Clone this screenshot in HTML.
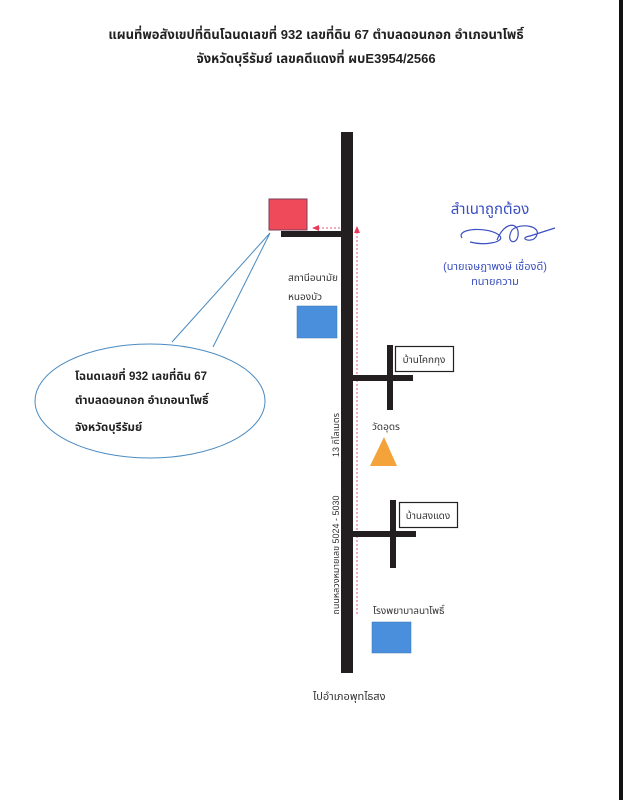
<!DOCTYPE html>
<html><head><meta charset="utf-8"><style>
html,body{margin:0;padding:0;background:#fff;}
svg{display:block;font-family:"Liberation Sans","Noto Sans Thai","Loma","Garuda",sans-serif;}
</style></head><body>
<svg width="623" height="800" viewBox="0 0 623 800" xmlns="http://www.w3.org/2000/svg">
<rect x="0" y="0" width="623" height="800" fill="#fff"/>
<rect x="619" y="0" width="4" height="800" fill="#111"/>
<text x="316" y="39" font-size="13" font-weight="bold" fill="#222" text-anchor="middle">แผนที่พอสังเขปที่ดินโฉนดเลขที่ 932 เลขที่ดิน 67 ตำบลดอนกอก อำเภอนาโพธิ์</text>
<text x="316" y="63" font-size="13" font-weight="bold" fill="#222" text-anchor="middle">จังหวัดบุรีรัมย์  เลขคดีแดงที่ ผบE3954/2566</text>

<rect x="341" y="132" width="12" height="541" fill="#231f20"/>
<rect x="281" y="231" width="60" height="6" fill="#231f20"/>
<rect x="269" y="199" width="38" height="31" fill="#ef4a5a" stroke="#7a3f5a" stroke-width="1"/>
<line x1="357" y1="232" x2="357" y2="614" stroke="#e85a7a" stroke-width="1" stroke-dasharray="2,2"/>
<polygon points="357,226 354,233 360,233" fill="#e83a5a"/>
<line x1="318" y1="228" x2="341" y2="228" stroke="#e85a7a" stroke-width="1" stroke-dasharray="2,2"/>
<polygon points="312,228 319,225 319,231" fill="#e83a5a"/>

<text x="288" y="281" font-size="10" fill="#333">สถานีอนามัย</text>
<text x="288" y="300" font-size="10" fill="#333">หนองบัว</text>
<rect x="297" y="306" width="40" height="32" fill="#4a8fdc" stroke="#3a70b0" stroke-width="0.5"/>

<rect x="353" y="375" width="60" height="6" fill="#231f20"/>
<rect x="387" y="345" width="6" height="65" fill="#231f20"/>
<rect x="395.5" y="346.5" width="58" height="25" fill="#fff" stroke="#222" stroke-width="1.2"/>
<text x="424" y="363" font-size="10" fill="#333" text-anchor="middle">บ้านโคกกุง</text>

<text x="372" y="430" font-size="10" fill="#333">วัดอุดร</text>
<polygon points="384,437 397,466 370,466" fill="#f4a23a"/>

<rect x="353" y="531" width="63" height="6" fill="#231f20"/>
<rect x="390" y="500" width="6" height="68" fill="#231f20"/>
<rect x="399.5" y="502.5" width="58" height="25" fill="#fff" stroke="#222" stroke-width="1.2"/>
<text x="428" y="519" font-size="10" fill="#333" text-anchor="middle">บ้านสงแดง</text>

<text x="373" y="614" font-size="10" fill="#333">โรงพยาบาลนาโพธิ์</text>
<rect x="372" y="622" width="39" height="31" fill="#4a8fdc" stroke="#3a70b0" stroke-width="0.5"/>

<text transform="translate(339,435) rotate(-90)" font-size="9" fill="#333" text-anchor="middle">13 กิโลเมตร</text>
<text transform="translate(339,555) rotate(-90)" font-size="9" fill="#333" text-anchor="middle">ถนนหลวงหมายเลข 5024 - 5030</text>

<text x="313" y="700" font-size="11" fill="#333">ไปอำเภอพุทไธสง</text>

<ellipse cx="150" cy="401" rx="115" ry="57" fill="#fff" stroke="#4a8ac0" stroke-width="1"/>
<polygon points="172,342 270,233 213,347" fill="#fff"/>
<polyline points="172,342 270,233 213,347" fill="none" stroke="#4a8ac0" stroke-width="1"/>
<text x="75" y="380" font-size="11.5" font-weight="bold" fill="#222">โฉนดเลขที่ 932 เลขที่ดิน 67</text>
<text x="75" y="404" font-size="11.5" font-weight="bold" fill="#222">ตำบลดอนกอก อำเภอนาโพธิ์</text>
<text x="75" y="431" font-size="11.5" font-weight="bold" fill="#222">จังหวัดบุรีรัมย์</text>

<text x="490" y="214" font-size="15" fill="#3b4fc0" text-anchor="middle">สำเนาถูกต้อง</text>
<path d="M462,238 C455,228 490,226 500,236 C505,242 485,246 470,242 M497,240 C505,220 520,222 518,236 C516,246 505,242 512,230 C520,222 545,226 535,238 C530,243 518,238 530,236 L555,228" fill="none" stroke="#3b4fc0" stroke-width="1.2"/>
<text x="495" y="270" font-size="11" fill="#3b4fc0" text-anchor="middle">(นายเจษฎาพงษ์  เชื่องดี)</text>
<text x="495" y="285" font-size="11" fill="#3b4fc0" text-anchor="middle">ทนายความ</text>
</svg>
</body></html>
